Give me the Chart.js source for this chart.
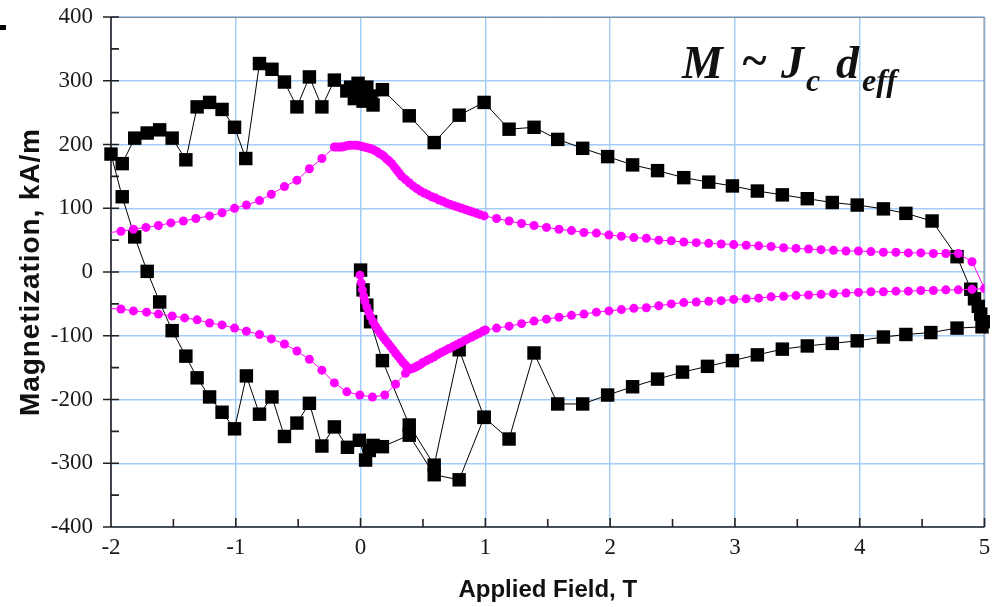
<!DOCTYPE html>
<html>
<head>
<meta charset="utf-8">
<title>Magnetization loop</title>
<script src="https://cdn.jsdelivr.net/npm/chart.js@4.4.1/dist/chart.umd.min.js"></script>
<style>
  html, body { margin: 0; padding: 0; background: #fff; }
  #wrap { position: relative; width: 994px; height: 607px; }
  #mark { position: absolute; left: 0; top: 25px; width: 6px; height: 5px; background: #000; }
</style>
</head>
<body>
<div id="wrap">
  <canvas id="chart" width="994" height="607"></canvas>
  <div id="mark"></div>
</div>
<script>
const xTicks = [-2, -1, 0, 1, 2, 3, 4, 5];
const xTickLabels = ['-2', '-1', '0', '1', '2', '3', '4', '5'];
const xMinor = [-1.5, -0.5, 0.5, 1.5, 2.5, 3.5, 4.5];
const yTicks = [-400, -300, -200, -100, 0, 100, 200, 300, 400];
const yTickLabels = ['-400', '-300', '-200', '-100', '0', '100', '200', '300', '400'];
const yMinor = [-350, -250, -150, -50, 50, 150, 250, 350];

// black squares: virgin curve, up to 5 T, back to -2 T, then up again
const blackField = [
  0.00, 0.02, 0.05, 0.08, 0.175, 0.39, 0.59, 0.79, 0.99, 1.19, 1.39, 1.58, 1.78, 1.98, 2.18, 2.38, 2.58, 2.78, 2.98,
  3.18, 3.38, 3.58, 3.78, 3.98, 4.19, 4.37, 4.57, 4.78, 4.98,
  4.99, 4.97, 4.95, 4.92, 4.89, 4.78, 4.58, 4.37, 4.19, 3.98, 3.78, 3.58, 3.38, 3.18, 2.98, 2.79, 2.59, 2.38,
  2.18, 1.98, 1.78, 1.58, 1.39, 1.19, 0.99, 0.79, 0.59, 0.39, 0.175, 0.10, 0.08, 0.05, 0.02, 0.00, -0.02, -0.05,
  -0.08, -0.11, -0.21, -0.31, -0.41, -0.51, -0.61, -0.71, -0.81, -0.92, -1.01, -1.11, -1.21, -1.31, -1.40, -1.51,
  -1.61, -1.71, -1.81, -1.91, -2.00,
  -1.91, -1.81, -1.71, -1.61, -1.51, -1.40, -1.31, -1.21, -1.11, -1.01, -0.915, -0.81, -0.71, -0.61, -0.51, -0.41,
  -0.31, -0.21, -0.105, -0.01, 0.04, 0.07, 0.10, 0.175, 0.39, 0.59, 0.79, 0.99
];
const blackM = [
  3, -28, -52, -78, -139, -240, -303, -122, -228, -262, -127, -207, -207, -193, -180, -168, -157, -148, -139,
  -130, -121, -116, -112, -108, -102, -98, -95, -88, -86,
  -78, -66, -54, -42, -27, 24, 80, 92, 99, 105, 109, 115, 121, 127, 135, 141, 148, 159,
  168, 181, 194, 208, 227, 224, 266, 246, 203, 245, 286, 262, 276, 290, 268, 282, 296, 272,
  290, 284, 301, 259, 306, 259, 298, 318, 327, 178, 227, 255, 266, 259, 176, 210,
  223, 218, 210, 170, 185,
  118, 55, 1, -47, -92, -132, -166, -196, -220, -246, -163, -223, -196, -258, -237, -206,
  -273, -243, -275, -264, -295, -280, -272, -274, -256, -318, -326, -228
];

// magenta: virgin curve, rising branch to 5 T, falling branch to -2 T
const pinkField = [
  -0.005, 0.005, 0.015, 0.025, 0.035, 0.05, 0.065, 0.08, 0.10, 0.12, 0.14, 0.16, 0.18, 0.20, 0.22, 0.24, 0.26,
  0.28, 0.30, 0.32, 0.34, 0.36, 0.38, 0.40,
  0.42, 0.44, 0.46, 0.48, 0.50, 0.53, 0.56, 0.59, 0.62, 0.65, 0.68, 0.71, 0.74, 0.77, 0.80, 0.83, 0.86, 0.89,
  0.92, 0.95, 0.98, 1.00,
  1.09, 1.19, 1.29, 1.39, 1.49, 1.59, 1.69, 1.79, 1.89, 1.99, 2.09, 2.19, 2.29, 2.39, 2.49, 2.59, 2.69, 2.79,
  2.89, 2.99, 3.09, 3.19, 3.29, 3.39, 3.49, 3.59, 3.69, 3.79, 3.89, 3.99, 4.09, 4.19, 4.29, 4.39, 4.49, 4.59,
  4.69, 4.79, 4.90, 5.00, 4.90,
  4.79, 4.69, 4.59, 4.49, 4.39, 4.29, 4.19, 4.09, 3.99, 3.89, 3.79, 3.69, 3.59, 3.49, 3.39, 3.29, 3.19, 3.09,
  2.99, 2.89, 2.79, 2.69, 2.59, 2.49, 2.39, 2.29, 2.19, 2.09, 1.99, 1.89, 1.79, 1.69, 1.59, 1.49, 1.39, 1.29,
  1.19, 1.09, 0.99,
  0.96, 0.93, 0.90, 0.87, 0.84, 0.81, 0.78, 0.75, 0.72, 0.69, 0.66, 0.63, 0.60, 0.57, 0.54, 0.51, 0.48, 0.45,
  0.42, 0.39, 0.36, 0.33, 0.31, 0.29, 0.27, 0.25, 0.23, 0.21, 0.19, 0.17, 0.15, 0.13, 0.11, 0.09, 0.07, 0.05,
  0.03, 0.01, -0.01, -0.03, -0.05, -0.07, -0.09, -0.11, -0.13, -0.15, -0.17, -0.19, -0.21,
  -0.31, -0.41, -0.51, -0.61, -0.715, -0.81, -0.915, -1.01, -1.11, -1.21, -1.32, -1.42, -1.52, -1.62, -1.72,
  -1.82, -1.92, -2.05
];
const pinkM = [
  -5, -17, -28, -38, -46, -55, -63, -70, -78, -85, -91, -97, -102, -107, -112, -117, -122,
  -127, -132, -137, -142, -146, -150, -152,
  -151, -149, -147, -145, -142, -139, -136, -133, -129, -126, -123, -120, -117, -114, -111, -108, -105, -102,
  -99, -96, -93, -91,
  -88, -85, -81, -77, -74, -71, -68, -66, -63, -61, -59, -57, -56, -53, -50, -48, -47, -46,
  -45, -43, -42, -41, -39, -38, -37, -36, -35, -34, -33, -32, -31, -31, -30, -30, -29, -29,
  -28, -28, -27, -26, 16,
  29, 29, 29, 30, 30, 31, 31, 32, 33, 33, 34, 35, 36, 37, 38, 40, 41, 42,
  43, 44, 45, 46, 47, 49, 50, 53, 54, 56, 58, 61, 62, 65, 67, 70, 73, 76,
  80, 84, 88,
  90, 92, 94, 96, 98, 100, 102, 104, 106, 108, 111, 113, 116, 118, 121, 124, 127, 131,
  135, 140, 145, 150, 155, 160, 165, 170, 174, 177, 181, 184, 186, 189, 191, 193, 194, 195,
  196, 197, 198, 199, 199, 199, 199, 198, 197, 196, 196, 196, 196,
  178, 162, 144, 134, 122, 112, 105, 100, 93, 88, 84, 80, 77, 73, 70,
  67, 64, 61
];

// magenta: rising branch from -2 T, joins the virgin curve
const pinkLowField = [
  -2.05, -1.92, -1.82, -1.715, -1.62, -1.51, -1.41, -1.31, -1.21, -1.11, -1.01, -0.915, -0.81, -0.715, -0.61,
  -0.51, -0.41, -0.31, -0.21, -0.11, -0.006, 0.095, 0.194, 0.28, 0.36, 0.40
];
const pinkLowM = [
  -57, -58, -61, -63, -66, -69, -72, -75, -80, -83, -88, -93, -98, -105, -113,
  -124, -137, -154, -174, -188, -193, -196, -193, -176, -159, -152
];

const zip = (xs, ys) => xs.map((x, i) => ({ x, y: ys[i] }));

const gridBlue = '#a3cdf7';
const tickFont = { family: "'Liberation Serif', 'Times New Roman', serif", size: 23 };

// axes, frame and minor ticks like the original plot
const frame = {
  id: 'frame',
  beforeDatasetsDraw(chart) {
    const { ctx, chartArea: a, scales: { x, y } } = chart;
    ctx.save();
    ctx.lineWidth = 1;
    ctx.strokeStyle = '#8a8a8a';
    ctx.beginPath();
    ctx.moveTo(a.left, a.top + 0.5); ctx.lineTo(a.right, a.top + 0.5);
    ctx.moveTo(a.right - 0.5, a.top); ctx.lineTo(a.right - 0.5, a.bottom);
    ctx.stroke();

    ctx.strokeStyle = '#222';
    ctx.lineWidth = 1.6;
    ctx.beginPath();
    ctx.moveTo(a.left, a.top); ctx.lineTo(a.left, a.bottom);
    ctx.moveTo(a.left - 8, a.bottom); ctx.lineTo(a.right, a.bottom);
    yTicks.forEach(v => { const p = y.getPixelForValue(v); ctx.moveTo(a.left - 8, p); ctx.lineTo(a.left + 8, p); });
    yMinor.forEach(v => { const p = y.getPixelForValue(v); ctx.moveTo(a.left, p); ctx.lineTo(a.left + 8, p); });
    xTicks.forEach(v => { const p = x.getPixelForValue(v); ctx.moveTo(p, a.bottom); ctx.lineTo(p, a.bottom - 9); });
    xMinor.forEach(v => { const p = x.getPixelForValue(v); ctx.moveTo(p, a.bottom); ctx.lineTo(p, a.bottom - 8); });
    ctx.stroke();
    ctx.restore();
  },
  afterDraw(chart) {
    const { ctx, chartArea: a } = chart;
    ctx.save();
    ctx.translate(31, (a.top + a.bottom) / 2);
    ctx.rotate(-Math.PI / 2);
    ctx.font = 'bold 28px "Liberation Sans", Arial, sans-serif';
    ctx.letterSpacing = '0.9px';
    ctx.textAlign = 'center';
    ctx.textBaseline = 'middle';
    ctx.fillStyle = '#111';
    ctx.fillText('Magnetization, kA/m', 0, 0);
    ctx.restore();

    // M ~ Jc deff
    ctx.save();
    ctx.fillStyle = '#111';
    ctx.textBaseline = 'alphabetic';
    ctx.font = 'italic bold 46px "Liberation Serif", serif';
    ctx.fillText('M', 682, 78);
    ctx.fillText('~', 741, 76);
    ctx.fillText('J', 781, 78);
    ctx.fillText('d', 836, 78);
    ctx.font = 'italic bold 32px "Liberation Serif", serif';
    ctx.fillText('c', 806, 91);
    ctx.fillText('eff', 862, 91);
    ctx.restore();
  }
};

new Chart(document.getElementById('chart'), {
  type: 'scatter',
  data: {
    datasets: [
      {
        data: zip(pinkField, pinkM),
        showLine: true,
        borderColor: '#ff00ff',
        borderWidth: 1,
        pointRadius: 4.5,
        pointBorderWidth: 0,
        pointBackgroundColor: '#ff00ff'
      },
      {
        data: zip(pinkLowField, pinkLowM),
        showLine: true,
        borderColor: '#ff00ff',
        borderWidth: 1,
        pointRadius: 4.5,
        pointBorderWidth: 0,
        pointBackgroundColor: '#ff00ff'
      },
      {
        data: zip(blackField, blackM),
        showLine: true,
        borderColor: '#000',
        borderWidth: 1,
        pointStyle: 'rect',
        pointRadius: 9.5,
        pointBorderWidth: 0,
        pointBackgroundColor: '#000',
        clip: false
      }
    ]
  },
  options: {
    responsive: false,
    animation: false,
    events: [],
    layout: { padding: { left: 0, top: 17, right: 9, bottom: 0 } },
    plugins: { legend: { display: false }, tooltip: { enabled: false } },
    scales: {
      x: {
        type: 'linear',
        min: -2,
        max: 5,
        afterBuildTicks: s => { s.ticks = xTicks.map(v => ({ value: v })); },
        afterFit: s => { s.height = 80; s.paddingLeft = 0; s.paddingRight = 0; },
        grid: { color: gridBlue, lineWidth: 1.5, drawTicks: false },
        border: { display: false },
        ticks: {
          font: tickFont,
          color: '#1a1a1a',
          padding: 7,
          autoSkip: false,
          maxRotation: 0,
          callback: v => xTickLabels[xTicks.indexOf(v)]
        },
        title: {
          display: true,
          text: 'Applied Field, T',
          color: '#111',
          font: { family: "'Liberation Sans', Arial, sans-serif", size: 24, weight: 'bold' },
          padding: { top: 0, bottom: 2 }
        }
      },
      y: {
        type: 'linear',
        min: -400,
        max: 400,
        afterBuildTicks: s => { s.ticks = yTicks.map(v => ({ value: v })); },
        afterFit: s => { s.width = 111; s.paddingTop = 0; s.paddingBottom = 0; },
        grid: { color: gridBlue, lineWidth: 1.5, drawTicks: false },
        border: { display: false },
        ticks: {
          font: tickFont,
          color: '#1a1a1a',
          padding: 18,
          autoSkip: false,
          callback: v => yTickLabels[yTicks.indexOf(v)]
        }
      }
    }
  },
  plugins: [frame]
});
</script>
</body>
</html>
